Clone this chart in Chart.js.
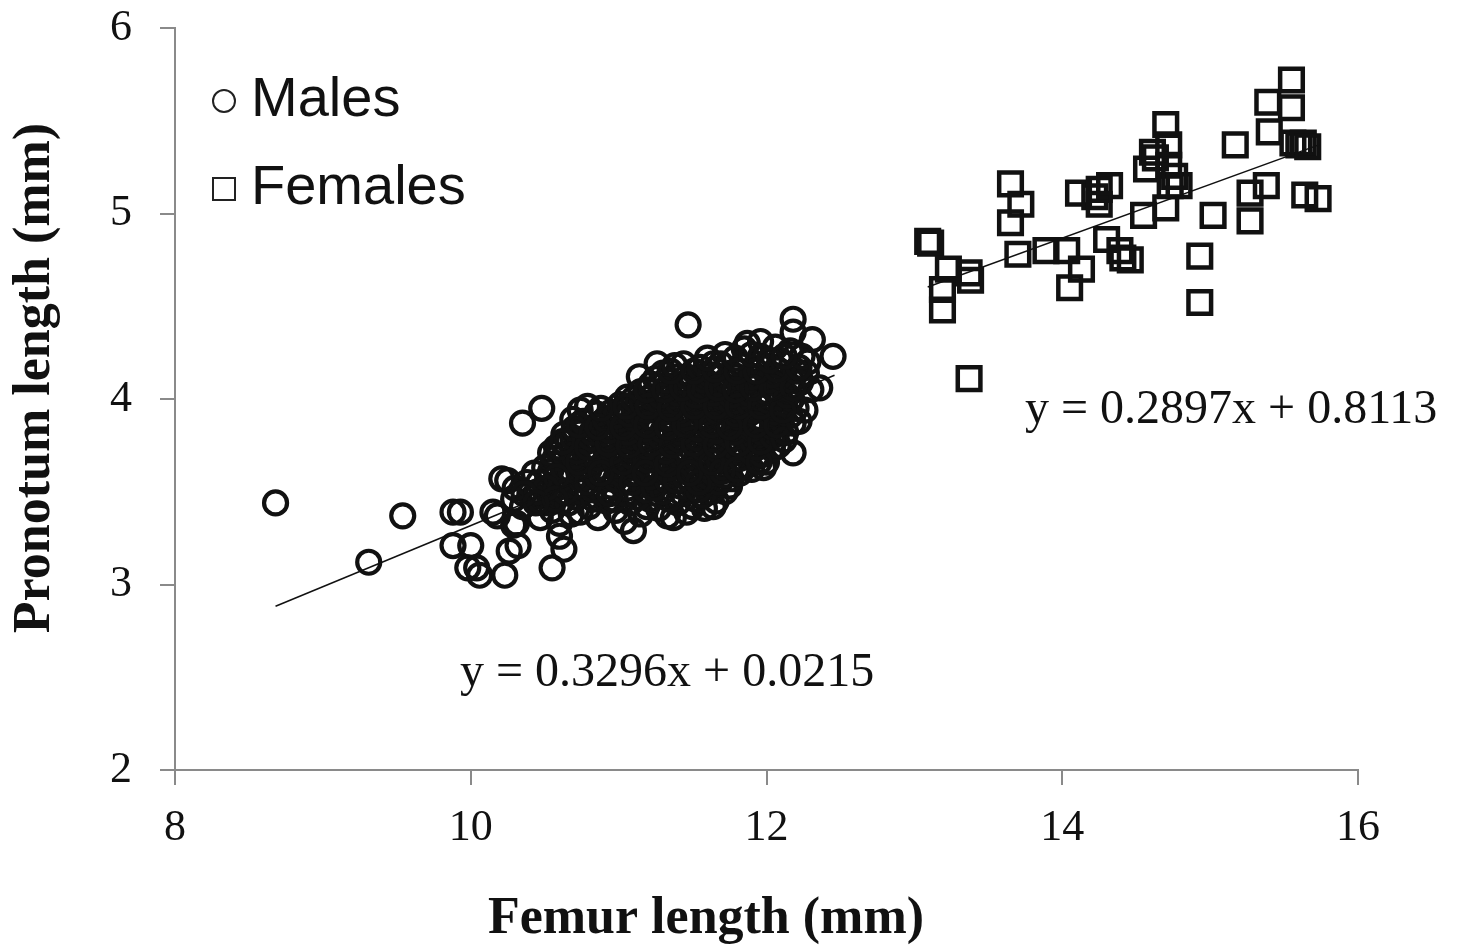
<!DOCTYPE html>
<html>
<head>
<meta charset="utf-8">
<title>Femur vs pronotum length</title>
<script src="https://cdn.jsdelivr.net/npm/chart.js@4.4.0/dist/chart.umd.min.js"></script>
<style>
  body { margin: 0; background: #fff; }
  canvas { display: block; }
</style>
</head>
<body>
<canvas id="sizeChart" width="1459" height="951"></canvas>
<script>
// femur length (mm), pronotum length (mm)
const males = [
  [8.68,3.44],[9.31,3.12],[9.54,3.37],[9.88,3.39],[9.93,3.39],[9.88,3.21],[10.0,3.21],
  [9.98,3.09],[10.04,3.09],[10.06,3.05],[10.23,3.05],[10.26,3.18],[10.32,3.21],[10.29,3.32],
  [10.18,3.37],[10.15,3.39],[10.55,3.09],[10.63,3.19],[10.21,3.57],[10.25,3.56],[10.29,3.46],
  [10.31,3.33],[10.47,3.36],[10.60,3.33],[10.74,3.39],[10.58,3.74],[10.56,3.65],[10.69,3.89],
  [10.35,3.87],[10.48,3.95],[10.74,3.94],[10.79,3.96],[11.06,4.01],[11.14,4.12],[11.26,4.19],
  [11.44,4.19],[11.47,4.40],[11.64,4.19],[11.87,4.30],[11.96,4.31],[12.18,4.43],[12.18,4.36],
  [12.31,4.32],[12.45,4.23],[12.36,4.06],[12.18,3.71],[11.98,3.63],[11.75,3.53],[11.64,3.42],
  [11.37,3.36],[11.10,3.29],[10.60,3.26],[12.23,4.10],[12.16,3.99],[12.26,3.94],[12.09,3.89],
  [11.99,3.78],[11.85,3.70],[11.69,3.56],[12.07,3.82],[12.27,4.14],[12.11,4.12],[12.09,4.21],
  [10.35,3.42],[10.42,3.47],[10.50,3.44],[10.55,3.40],[10.62,3.45],[10.68,3.38],[10.72,3.47],
  [10.80,3.42],[10.86,3.36],[10.92,3.45],[10.98,3.40],[11.04,3.34],[11.08,3.44],[11.15,3.38],
  [11.21,3.46],[11.27,3.41],[11.33,3.37],[11.40,3.44],[11.46,3.39],[11.52,3.46],[11.58,3.41],
  [11.66,3.45],[11.72,3.50],
  [10.40,3.49],[10.47,3.45],[10.53,3.48],[10.60,3.49],[10.66,3.44],[10.75,3.50],[10.83,3.46],
  [10.90,3.49],[10.97,3.46],[11.05,3.49],[11.13,3.47],[11.19,3.42],[11.26,3.49],[11.34,3.46],
  [11.43,3.49],[11.50,3.42],[11.57,3.48],[11.63,3.50],
  [10.30,3.52],[10.38,3.55],[10.45,3.50],[10.52,3.57],[10.58,3.52],[10.65,3.58],[10.71,3.53],
  [10.77,3.59],[10.83,3.51],[10.89,3.57],[10.95,3.53],[11.01,3.60],[11.06,3.52],[11.12,3.58],
  [11.18,3.51],[11.24,3.56],[11.30,3.50],[11.36,3.59],[11.42,3.53],[11.48,3.57],[11.54,3.51],
  [11.61,3.58],[11.68,3.55],[11.76,3.57],[11.82,3.60],
  [10.43,3.60],[10.54,3.61],[10.61,3.57],[10.68,3.61],[10.74,3.57],[10.80,3.62],[10.86,3.58],
  [10.92,3.61],[10.98,3.57],[11.04,3.62],[11.10,3.60],[11.16,3.61],[11.21,3.58],[11.27,3.61],
  [11.33,3.56],[11.39,3.61],[11.45,3.58],[11.51,3.61],[11.57,3.56],[11.64,3.60],[11.72,3.59],
  [11.90,3.62],
  [10.50,3.63],[10.57,3.68],[10.63,3.62],[10.69,3.67],[10.75,3.64],[10.81,3.70],[10.87,3.63],
  [10.93,3.68],[10.99,3.62],[11.05,3.69],[11.11,3.64],[11.17,3.70],[11.23,3.62],[11.29,3.67],
  [11.35,3.63],[11.41,3.69],[11.47,3.62],[11.53,3.68],[11.59,3.64],[11.65,3.70],[11.71,3.63],
  [11.78,3.67],[11.86,3.64],[11.93,3.69],[12.00,3.66],
  [10.54,3.71],[10.64,3.70],[10.70,3.69],[10.77,3.71],[10.85,3.68],[10.91,3.73],[10.97,3.67],
  [11.03,3.72],[11.09,3.69],[11.15,3.73],[11.20,3.67],[11.26,3.72],[11.32,3.68],[11.38,3.72],
  [11.44,3.67],[11.50,3.72],[11.56,3.69],[11.62,3.73],[11.68,3.67],[11.75,3.71],[11.82,3.68],
  [11.90,3.72],[11.97,3.70],[12.04,3.73],
  [10.60,3.74],[10.66,3.78],[10.72,3.72],[10.78,3.77],[10.84,3.73],[10.90,3.79],[10.96,3.72],
  [11.02,3.77],[11.08,3.73],[11.14,3.79],[11.20,3.74],[11.26,3.78],[11.32,3.72],[11.38,3.77],
  [11.44,3.73],[11.50,3.79],[11.56,3.74],[11.62,3.78],[11.68,3.72],[11.74,3.77],[11.80,3.73],
  [11.87,3.79],[11.94,3.74],[12.01,3.78],[12.08,3.75],
  [10.63,3.81],[10.69,3.79],[10.75,3.82],[10.81,3.79],[10.87,3.81],[10.93,3.78],[10.99,3.82],
  [11.05,3.79],[11.11,3.81],[11.17,3.78],[11.23,3.82],[11.29,3.79],[11.35,3.81],[11.41,3.78],
  [11.47,3.82],[11.53,3.79],[11.59,3.81],[11.65,3.78],[11.71,3.82],[11.77,3.79],[11.83,3.81],
  [11.90,3.78],[11.97,3.82],[12.04,3.80],[12.13,3.82],
  [10.70,3.84],[10.76,3.88],[10.82,3.82],[10.88,3.87],[10.94,3.83],[11.00,3.89],[11.06,3.82],
  [11.12,3.88],[11.18,3.84],[11.24,3.89],[11.30,3.83],[11.36,3.87],[11.42,3.82],[11.48,3.88],
  [11.54,3.84],[11.60,3.89],[11.66,3.83],[11.72,3.87],[11.78,3.82],[11.84,3.88],[11.90,3.84],
  [11.97,3.89],[12.04,3.85],[12.10,3.89],[12.18,3.87],
  [10.85,3.92],[10.91,3.89],[10.98,3.91],[11.04,3.94],[11.10,3.90],[11.16,3.93],[11.22,3.90],
  [11.28,3.94],[11.34,3.90],[11.40,3.93],[11.46,3.90],[11.52,3.94],[11.58,3.90],[11.64,3.93],
  [11.70,3.90],[11.76,3.94],[11.82,3.90],[11.88,3.93],[11.95,3.90],[12.02,3.92],[12.09,3.93],
  [12.16,3.91],
  [10.95,3.93],[11.01,3.97],[11.07,3.92],[11.13,3.98],[11.19,3.94],[11.25,3.99],[11.31,3.93],
  [11.37,3.97],[11.43,3.92],[11.49,3.98],[11.55,3.94],[11.61,3.99],[11.67,3.93],[11.73,3.97],
  [11.79,3.92],[11.85,3.98],[11.91,3.94],[11.98,3.99],[12.05,3.93],[12.12,3.97],[12.20,3.95],
  [11.10,4.00],[11.16,3.98],[11.22,4.01],[11.28,3.98],[11.34,4.01],[11.40,3.98],[11.46,4.01],
  [11.52,3.98],[11.58,4.01],[11.64,3.98],[11.70,4.01],[11.76,3.98],[11.82,4.01],[11.88,3.98],
  [11.94,4.01],[12.01,3.99],[12.08,4.01],[12.17,4.00],
  [11.15,4.04],[11.22,4.08],[11.28,4.02],[11.34,4.07],[11.40,4.03],[11.46,4.09],[11.52,4.02],
  [11.58,4.06],[11.64,4.03],[11.70,4.08],[11.76,4.02],[11.82,4.07],[11.88,4.03],[11.94,4.09],
  [12.00,4.04],[12.07,4.08],[12.14,4.02],[12.23,4.09],[12.30,4.05],
  [11.25,4.11],[11.32,4.10],[11.40,4.12],[11.50,4.11],[11.58,4.10],[11.66,4.12],[11.73,4.10],
  [11.80,4.12],[11.87,4.10],[11.94,4.12],[12.01,4.10],[12.09,4.12],[12.17,4.10],
  [11.30,4.14],[11.38,4.18],[11.46,4.12],[11.55,4.17],[11.62,4.13],[11.69,4.19],[11.76,4.14],
  [11.83,4.18],[11.90,4.12],[11.97,4.17],[12.04,4.13],[12.12,4.19],[12.20,4.15],[12.28,4.20],
  [11.72,4.24],[11.85,4.27],[11.96,4.23],[12.06,4.28],[12.16,4.26],[12.24,4.23],
  [10.64,3.50],[10.79,3.55],[10.94,3.49],[11.09,3.55],[11.24,3.52],[11.39,3.56],[11.54,3.55],
  [11.70,3.61],[10.58,3.58],[10.73,3.66],[10.88,3.60],[11.03,3.66],[11.18,3.60],[11.33,3.65],
  [11.48,3.60],[11.63,3.66],[11.80,3.62],[11.95,3.66],[10.62,3.77],[10.79,3.74],[10.93,3.76],
  [11.07,3.75],[11.22,3.76],[11.36,3.75],[11.51,3.76],[11.66,3.75],[11.81,3.76],[11.96,3.77],
  [12.12,3.78],[10.73,3.86],[10.86,3.85],[11.03,3.85],[11.19,3.86],[11.33,3.85],[11.45,3.86],
  [11.63,3.86],[11.75,3.85],[11.93,3.86],[12.07,3.86],[12.22,3.88],[10.88,3.95],[11.05,3.96],
  [11.20,3.96],[11.35,3.95],[11.51,3.96],[11.66,3.96],[11.81,3.96],[11.96,3.96],[12.11,3.94],
  [11.19,4.05],[11.31,4.05],[11.43,4.06],[11.55,4.05],[11.67,4.06],[11.79,4.05],[11.91,4.06],
  [12.04,4.06],[12.18,4.06],[11.35,4.15],[11.51,4.15],[11.65,4.16],[11.80,4.15],[11.93,4.15],
  [12.07,4.16],[12.22,4.17],[11.60,4.22],[11.79,4.22],[11.90,4.24],[12.02,4.21],[12.12,4.23],
  [10.46,3.55],[10.51,3.52],[10.36,3.49],[10.57,3.46],[10.44,3.44]
];

const females = [
  [13.09,4.85],[13.11,4.84],[13.19,4.59],[13.19,4.48],[13.23,4.70],[13.37,4.68],[13.38,4.64],
  [13.37,4.11],[13.65,5.16],[13.72,5.05],[13.65,4.95],[13.70,4.78],[13.89,4.80],[14.03,4.80],
  [14.05,4.60],[14.13,4.70],[14.11,5.11],[14.22,5.09],[14.25,5.13],[14.32,5.15],[14.25,5.05],
  [14.30,4.86],[14.39,4.80],[14.41,4.76],[14.46,4.75],[14.55,4.99],[14.57,5.24],[14.61,5.33],
  [14.63,5.30],[14.70,5.48],[14.72,5.37],[14.72,5.26],[14.73,5.15],[14.70,5.03],[14.79,5.15],
  [14.76,5.20],[14.93,4.77],[14.93,4.52],[15.02,4.99],[15.17,5.37],[15.27,4.96],[15.27,5.11],
  [15.38,5.15],[15.39,5.60],[15.40,5.44],[15.55,5.72],[15.55,5.57],[15.56,5.38],[15.60,5.37],
  [15.63,5.38],[15.66,5.36],[15.64,5.10],[15.73,5.08]
];

// fitted lines: slope, intercept, x range
const maleFit = { slope: 0.3296, intercept: 0.0215, from: 8.68, to: 12.46 };
const femaleFit = { slope: 0.2897, intercept: 0.8113, from: 13.09, to: 15.74 };

const xTicks = [8, 10, 12, 14, 16];
const yTicks = [2, 3, 4, 5, 6];

function fitPoints(f) {
  return [f.from, f.to].map(x => ({ x: x, y: f.slope * x + f.intercept }));
}
function eqText(f) {
  return 'y = ' + f.slope.toFixed(4) + 'x + ' + f.intercept.toFixed(4);
}

const ink = '#111';
const serif = '"Liberation Serif", "DejaVu Serif", serif';
const sans = '"Liberation Sans", Arial, sans-serif';

// axis titles, equations and the legend box
const labels = {
  id: 'labels',
  afterDraw(chart) {
    const ctx = chart.ctx;
    ctx.save();
    ctx.fillStyle = ink;
    ctx.textBaseline = 'middle';

    ctx.font = 'bold 52px ' + serif;
    ctx.textAlign = 'center';
    ctx.fillText('Femur length (mm)', 706, 920);
    ctx.save();
    ctx.translate(36, 378);
    ctx.rotate(-Math.PI / 2);
    ctx.fillText('Pronotum length (mm)', 0, 0);
    ctx.restore();

    ctx.font = '48px ' + serif;
    ctx.textAlign = 'left';
    ctx.fillText(eqText(maleFit), 460, 673);
    ctx.fillText(eqText(femaleFit), 1025, 410);

    ctx.strokeStyle = '#222';
    ctx.lineWidth = 2;
    ctx.beginPath();
    ctx.arc(224, 101, 11, 0, Math.PI * 2);
    ctx.stroke();
    ctx.strokeRect(213, 178, 22, 22);
    ctx.font = '56px ' + sans;
    ctx.fillText('Males', 251, 101);
    ctx.fillText('Females', 251, 189);
    ctx.restore();
  }
};

const axisGrey = '#8a8a8a';

new Chart(document.getElementById('sizeChart'), {
  type: 'scatter',
  data: {
    datasets: [
      {
        type: 'line', data: fitPoints(maleFit), borderColor: ink, borderWidth: 1.5,
        pointRadius: 0, fill: false
      },
      {
        type: 'line', data: fitPoints(femaleFit), borderColor: ink, borderWidth: 1.5,
        pointRadius: 0, fill: false
      },
      {
        label: 'Males', data: males.map(p => ({ x: p[0], y: p[1] })),
        pointStyle: 'circle', pointRadius: 11.5, borderWidth: 4.2,
        borderColor: ink, backgroundColor: 'rgba(0,0,0,0)'
      },
      {
        label: 'Females', data: females.map(p => ({ x: p[0], y: p[1] })),
        pointStyle: 'rect', pointRadius: 16, borderWidth: 4.5,
        borderColor: ink, backgroundColor: 'rgba(0,0,0,0)'
      }
    ]
  },
  options: {
    responsive: false,
    animation: false,
    layout: { padding: { top: 28, right: 101, left: 0, bottom: 0 } },
    plugins: { legend: { display: false }, tooltip: { enabled: false } },
    scales: {
      x: {
        type: 'linear', min: 8, max: 16,
        afterFit: s => { s.height = 181; },
        afterBuildTicks: s => { s.ticks = xTicks.map(v => ({ value: v })); },
        grid: { drawOnChartArea: false, color: axisGrey, tickLength: 15, lineWidth: 2 },
        border: { color: axisGrey, width: 2 },
        ticks: { color: ink, padding: 17, font: { family: serif, size: 44 } }
      },
      y: {
        type: 'linear', min: 2, max: 6,
        afterFit: s => { s.width = 175; s.paddingTop = 0; s.paddingBottom = 0; },
        afterBuildTicks: s => { s.ticks = yTicks.map(v => ({ value: v })); },
        grid: { drawOnChartArea: false, color: axisGrey, tickLength: 15, lineWidth: 2 },
        border: { color: axisGrey, width: 2 },
        ticks: { color: ink, padding: 28, font: { family: serif, size: 44 } }
      }
    }
  },
  plugins: [labels]
});
</script>
</body>
</html>
